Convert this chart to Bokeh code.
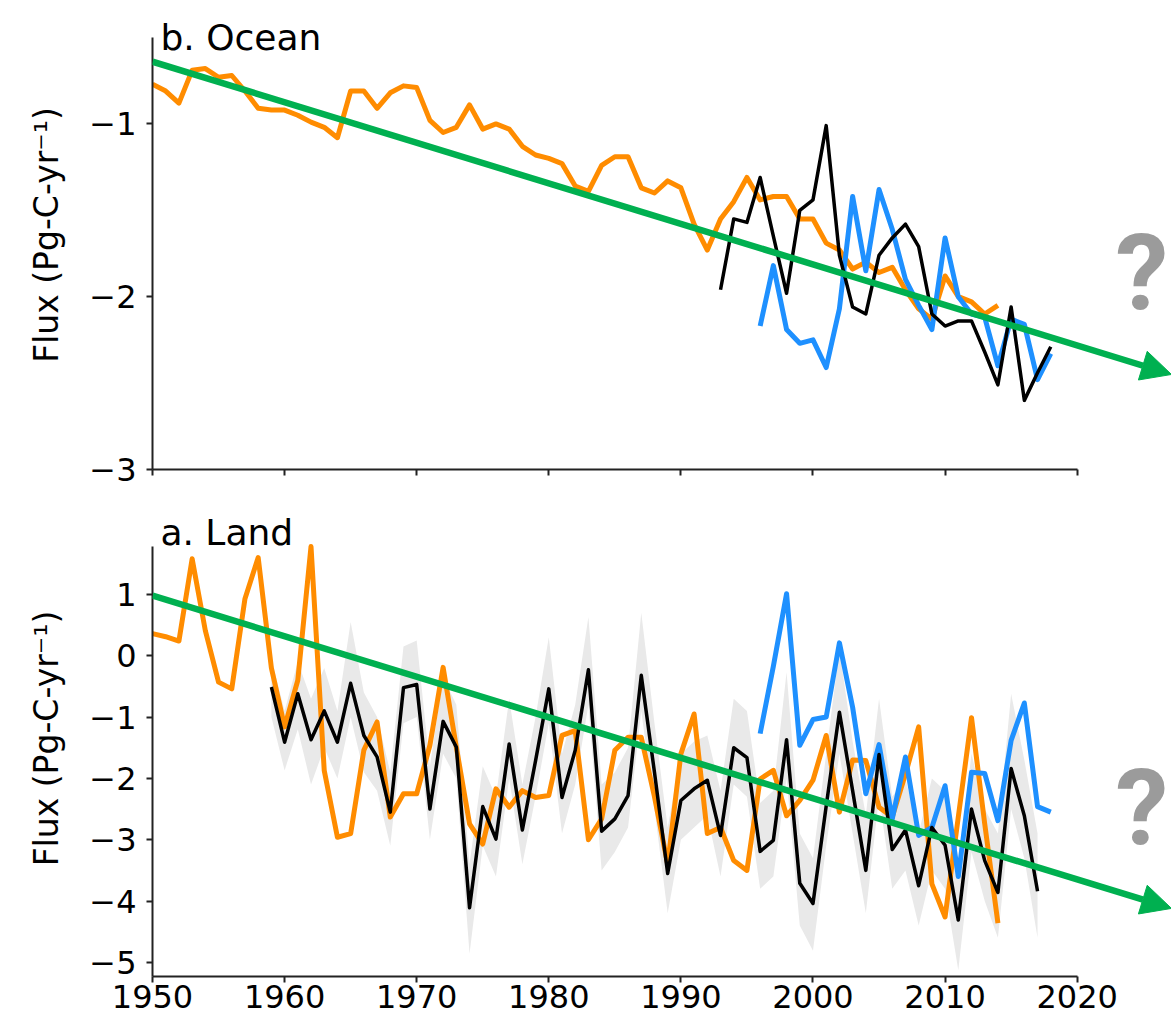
from bokeh.plotting import figure
from bokeh.layouts import column
from bokeh.models import Arrow, NormalHead, Label, FixedTicker, Range1d
from bokeh.core.properties import value
from bokeh.embed import file_html
from bokeh.resources import INLINE

# ---------------- data: b. Ocean ----------------
ocean_orange_years = list(range(1950, 2015))
ocean_orange = [-0.77, -0.81, -0.88, -0.69, -0.68, -0.73, -0.72, -0.81, -0.91, -0.92,
                -0.92, -0.95, -0.99, -1.02, -1.08, -0.81, -0.81, -0.91, -0.82, -0.78,
                -0.79, -0.98, -1.05, -1.02, -0.89, -1.03, -1.00, -1.03, -1.13, -1.18,
                -1.20, -1.23, -1.36, -1.39, -1.24, -1.19, -1.19, -1.37, -1.40, -1.33,
                -1.37, -1.58, -1.73, -1.55, -1.45, -1.31, -1.44, -1.42, -1.42, -1.55,
                -1.55, -1.69, -1.73, -1.84, -1.80, -1.86, -1.83, -1.96, -2.07, -2.13,
                -1.88, -2.00, -2.03, -2.10, -2.05]
ocean_black_years = list(range(1993, 2019))
ocean_black = [-1.96, -1.55, -1.57, -1.31, -1.65, -1.98, -1.50, -1.44, -1.01, -1.76,
               -2.06, -2.10, -1.76, -1.66, -1.58, -1.71, -2.10, -2.17, -2.14, -2.14,
               -2.32, -2.51, -2.06, -2.60, -2.44, -2.29]
ocean_blue_years = list(range(1996, 2019))
ocean_blue = [-2.17, -1.82, -2.19, -2.27, -2.25, -2.41, -2.07, -1.42, -1.85, -1.38,
              -1.61, -1.90, -2.05, -2.19, -1.66, -2.00, -2.10, -2.12, -2.40, -2.13,
              -2.16, -2.48, -2.33]
ocean_trend_x = [1950.0, 2027.14]
ocean_trend_y = [-0.64, -2.45]
ocean_q_x = [2024.9]
ocean_q_y = [-1.862]

# ---------------- data: a. Land ----------------
land_orange_years = list(range(1950, 2015))
land_orange = [0.36, 0.31, 0.24, 1.58, 0.41, -0.43, -0.54, 0.93, 1.60, -0.20,
               -1.16, -0.40, 1.78, -1.87, -2.96, -2.90, -1.54, -1.08, -2.63, -2.25,
               -2.25, -1.46, -0.19, -1.49, -2.74, -3.07, -2.17, -2.47, -2.20, -2.31,
               -2.28, -1.30, -1.22, -3.00, -2.66, -1.54, -1.33, -1.33, -2.30, -3.40,
               -1.60, -0.95, -2.90, -2.80, -3.34, -3.50, -2.01, -1.87, -2.61, -2.36,
               -2.03, -1.30, -2.55, -1.70, -1.71, -2.47, -2.63, -1.93, -1.16, -3.72,
               -4.26, -2.63, -1.01, -2.74, -4.36]
land_black_years = list(range(1959, 2018))
land_black = [-0.51, -1.41, -0.62, -1.37, -0.90, -1.41, -0.45, -1.30, -1.65, -2.55,
              -0.52, -0.47, -2.50, -1.07, -1.49, -4.11, -2.46, -2.99, -1.44, -2.84,
              -1.71, -0.54, -2.31, -1.54, -0.23, -2.86, -2.66, -2.28, -0.32, -1.90,
              -3.55, -2.36, -2.17, -2.03, -2.93, -1.50, -1.66, -3.19, -3.01, -1.37,
              -3.71, -4.04, -2.45, -0.92, -2.20, -3.50, -1.61, -3.16, -2.84, -3.75,
              -2.80, -3.09, -4.31, -2.50, -3.34, -3.86, -1.84, -2.61, -3.84]
land_band_hi = [-0.05, -0.90, -0.10, -0.70, -0.20, -0.90, 0.55, -0.60, -1.00, -1.90,
                0.15, 0.25, -1.80, -0.35, -0.80, -3.40, -1.80, -2.30, -0.70, -2.10,
                -1.00, 0.30, -1.60, -0.80, 0.63, -2.10, -1.90, -1.50, 0.70, -1.10,
                -2.80, -1.60, -1.40, -1.30, -2.20, -0.70, -0.90, -2.40, -2.20, -0.27,
                -2.90, -3.30, -1.60, 0.10, -1.40, -2.60, -0.70, -2.30, -2.00, -2.90,
                -2.00, -2.20, -3.40, -1.60, -2.50, -2.90, -0.62, -1.70, -2.90]
land_band_lo = [-1.00, -1.87, -1.20, -2.10, -1.50, -2.00, -1.00, -1.90, -2.20, -3.10,
                -1.10, -1.00, -3.00, -1.60, -2.00, -4.86, -3.10, -3.60, -2.00, -3.40,
                -2.30, -1.10, -2.90, -2.10, -0.80, -3.50, -3.20, -2.80, -0.90, -2.50,
                -4.20, -3.00, -2.80, -2.60, -3.60, -2.10, -2.30, -3.80, -3.60, -2.00,
                -4.40, -4.81, -3.10, -1.60, -2.90, -4.20, -2.30, -3.80, -3.50, -4.40,
                -3.50, -3.80, -5.13, -3.20, -4.00, -4.60, -2.50, -3.30, -4.60]
land_blue_years = list(range(1996, 2019))
land_blue = [-1.27, -0.17, 1.01, -1.46, -1.04, -1.00, 0.21, -0.84, -2.25, -1.45,
             -2.66, -1.65, -2.93, -2.80, -2.12, -3.60, -1.90, -1.92, -2.69, -1.38,
             -0.77, -2.46, -2.55]
land_trend_x = [1950.0, 2027.14]
land_trend_y = [0.98, -4.12]
land_q_x = [2024.9]
land_q_y = [-2.489]

year_ticks = [1950, 1960, 1970, 1980, 1990, 2000, 2010, 2020]
ocean_ticks = [-3, -2, -1]
land_ticks = [-5, -4, -3, -2, -1, 0, 1]

ORANGE = "#ff8c00"
BLUE = "#1e90ff"
GREEN = "#00b050"
QGRAY = "#9b9b9b"
FONT = "DejaVu Sans"
YLABEL = "Flux (Pg-C-yr\u207b\u00b9)"


def minus(v):
    return ("\u2212" + str(abs(v))) if v < 0 else str(v)


def style(p, yticks, ybounds, show_xlabels):
    p.grid.visible = False
    p.outline_line_color = None
    p.background_fill_color = "white"
    p.border_fill_color = "white"
    for ax in (p.xaxis[0], p.yaxis[0]):
        ax.axis_line_width = 2
        ax.axis_line_color = "#222222"
        ax.major_tick_line_width = 2
        ax.major_tick_line_color = "#222222"
        ax.major_tick_out = 6
        ax.major_tick_in = 0
        ax.minor_tick_line_color = None
        ax.major_label_text_font = FONT
        ax.major_label_text_font_size = "32px"
        ax.major_label_text_color = "black"
    xa = p.xaxis[0]
    xa.ticker = FixedTicker(ticks=year_ticks)
    xa.bounds = (1950, 2020)
    xa.major_label_standoff = 2
    if not show_xlabels:
        xa.major_label_text_font_size = "1px"
        xa.major_label_text_color = None
    ya = p.yaxis[0]
    ya.bounds = ybounds
    ya.ticker = FixedTicker(ticks=yticks)
    ya.major_label_overrides = {float(t): minus(t) for t in yticks}
    ya.major_label_standoff = 10
    ya.axis_label = YLABEL
    ya.axis_label_text_font = FONT
    ya.axis_label_text_font_size = "33px"
    ya.axis_label_text_font_style = "normal"
    ya.axis_label_text_color = "black"
    ya.axis_label_standoff = 20


def add_marks(p, trend_x, trend_y, qx, qy):
    p.add_layout(Arrow(end=NormalHead(size=30, fill_color=GREEN, line_color=GREEN),
                       x_start=trend_x[0], y_start=trend_y[0],
                       x_end=trend_x[1], y_end=trend_y[1],
                       line_color=GREEN, line_width=6.5))
    p.text(x=qx, y=qy, text=["?"], text_font=value("Roboto"),
           text_font_style="bold", text_font_size="106px", text_color=QGRAY,
           text_align="center", text_baseline="middle")


# ---------------- top panel: ocean ----------------
top = figure(frame_width=1019, frame_height=469, output_backend="svg", toolbar_location=None,
             x_range=Range1d(1950, 2027.14), y_range=Range1d(-3, -0.286),
             min_border_left=152, min_border_right=0, min_border_top=0, min_border_bottom=31)
style(top, ocean_ticks, (-3, -0.5), False)
top.line(ocean_orange_years, ocean_orange, line_color=ORANGE, line_width=5, line_join="round")
top.line(ocean_blue_years, ocean_blue, line_color=BLUE, line_width=5, line_join="round")
top.line(ocean_black_years, ocean_black, line_color="black", line_width=3.5, line_join="round")
add_marks(top, ocean_trend_x, ocean_trend_y, ocean_q_x, ocean_q_y)
top.add_layout(Label(x=1950.6, y=-0.5, text="b. Ocean", text_font=FONT, text_font_size="36px",
                     text_color="black", text_baseline="alphabetic", text_align="left"))

# ---------------- bottom panel: land ----------------
bot = figure(frame_width=1019, frame_height=476, output_backend="svg", toolbar_location=None,
             x_range=Range1d(1950, 2027.14), y_range=Range1d(-5.23, 2.531),
             min_border_left=152, min_border_right=0, min_border_top=0, min_border_bottom=44)
style(bot, land_ticks, (-5.23, 1.78), True)
bot.varea(x=land_black_years, y1=land_band_lo, y2=land_band_hi, fill_color="#e9e9e9")
bot.line(land_orange_years, land_orange, line_color=ORANGE, line_width=5, line_join="round")
bot.line(land_blue_years, land_blue, line_color=BLUE, line_width=5, line_join="round")
bot.line(land_black_years, land_black, line_color="black", line_width=3.5, line_join="round")
add_marks(bot, land_trend_x, land_trend_y, land_q_x, land_q_y)
bot.add_layout(Label(x=1950.6, y=2.008, text="a. Land", text_font=FONT, text_font_size="36px",
                     text_color="black", text_baseline="alphabetic", text_align="left"))

layout = column(top, bot)
open("out.html", "w").write(file_html(layout, INLINE))
